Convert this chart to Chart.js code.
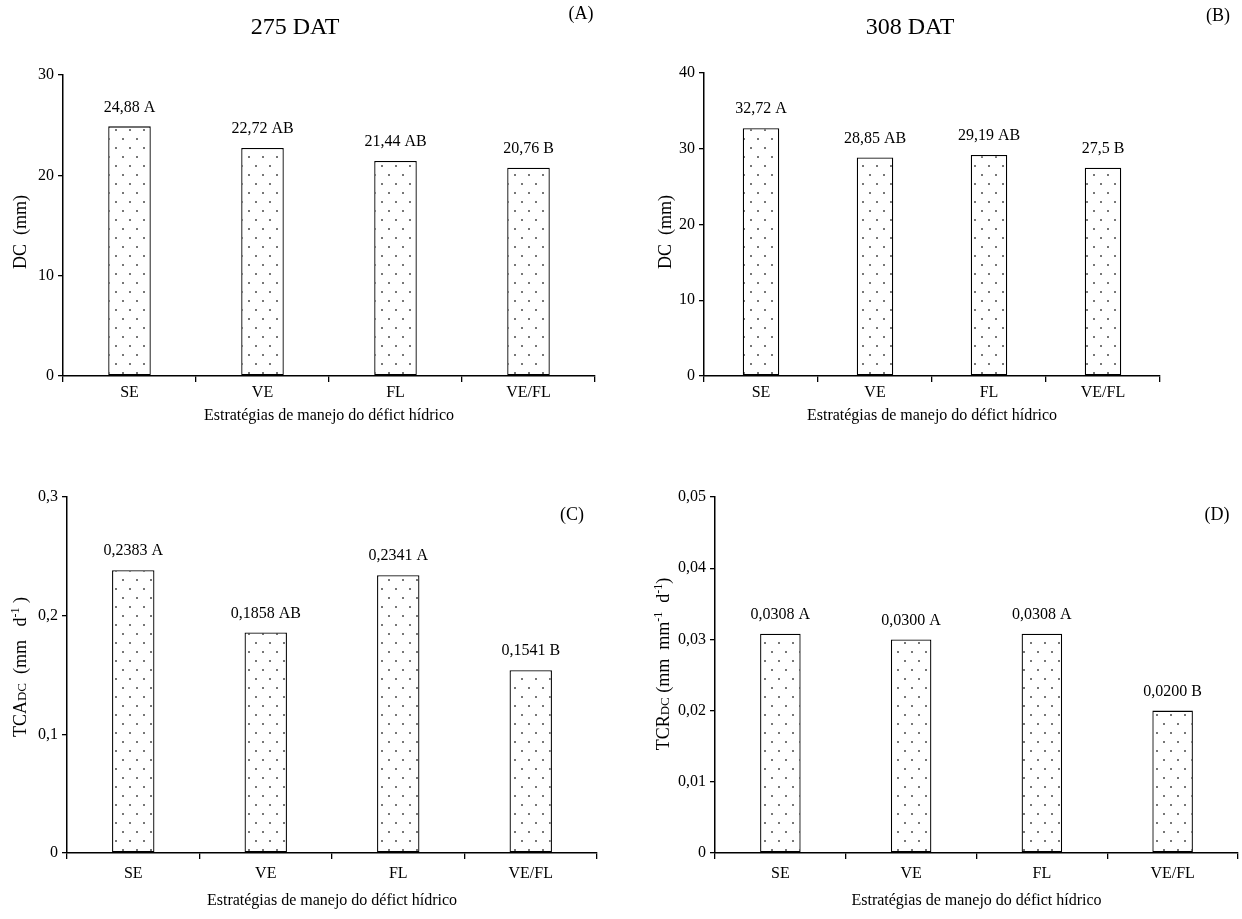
<!DOCTYPE html>
<html>
<head>
<meta charset="utf-8">
<script src="https://cdn.jsdelivr.net/npm/chart.js@4.4.1/dist/chart.umd.min.js"></script>
<style>
  body { margin: 0; background: #fff; width: 1242px; height: 919px; position: relative; overflow: hidden; }
  canvas { position: absolute; }
</style>
</head>
<body>
<canvas id="grafA" width="621" height="459" style="left:0;top:0;width:621px;height:459px"></canvas>
<canvas id="grafB" width="621" height="459" style="left:621px;top:0;width:621px;height:459px"></canvas>
<canvas id="grafC" width="621" height="460" style="left:0;top:459px;width:621px;height:460px"></canvas>
<canvas id="grafD" width="621" height="460" style="left:621px;top:459px;width:621px;height:460px"></canvas>
<script>
const FONTE = '"Liberation Serif", "Times New Roman", serif';
Chart.defaults.font.family = FONTE;
Chart.defaults.color = '#000';

// dados
const categorias = ['SE', 'VE', 'FL', 'VE/FL'];
const tituloX = 'Estratégias de manejo do défict hídrico';

const dcA = [24.88, 22.72, 21.44, 20.76];
const letrasA = ['A', 'AB', 'AB', 'B'];
const ticksA = [0, 10, 20, 30];

const dcB = [32.72, 28.85, 29.19, 27.5];
const letrasB = ['A', 'AB', 'AB', 'B'];
const ticksB = [0, 10, 20, 30, 40];

const tcaC = [0.2383, 0.1858, 0.2341, 0.1541];
const letrasC = ['A', 'AB', 'A', 'B'];
const ticksC = [0, 0.1, 0.2, 0.3];

const tcrD = [0.0308, 0.0300, 0.0308, 0.0200];
const letrasD = ['A', 'A', 'A', 'B'];
const ticksD = [0, 0.01, 0.02, 0.03, 0.04, 0.05];

function formatar(v, dec) {
    if (v === 0) return '0';
    return (dec == null ? String(v) : v.toFixed(dec)).replace('.', ',');
}

// padrao pontilhado das barras
function padraoPontos(ctx) {
    const c = document.createElement('canvas');
    c.width = 14; c.height = 18;
    const g = c.getContext('2d');
    g.fillStyle = '#fff';
    g.fillRect(0, 0, 14, 18);
    g.fillStyle = '#777';
    g.fillRect(3, 3, 2, 2);
    g.fillRect(10, 12, 2, 2);
    return ctx.createPattern(c, 'repeat');
}

const rotulosBarras = {
    id: 'rotulosBarras',
    afterDatasetsDraw(chart, args, opts) {
        const ctx = chart.ctx;
        const meta = chart.getDatasetMeta(0);
        ctx.save();
        ctx.font = '16px ' + FONTE;
        ctx.fillStyle = '#000';
        ctx.textAlign = 'center';
        ctx.textBaseline = 'bottom';
        meta.data.forEach((bar, i) => ctx.fillText(opts.textos[i], bar.x, bar.y - 11));
        ctx.restore();
    }
};

const textosPainel = {
    id: 'textosPainel',
    afterDraw(chart, args, o) {
        const ctx = chart.ctx;
        ctx.save();
        ctx.fillStyle = '#000';
        ctx.textBaseline = 'middle';
        ctx.textAlign = 'center';
        if (o.titulo) {
            ctx.font = '24px ' + FONTE;
            ctx.fillText(o.titulo, o.tx, o.ty);
        }
        ctx.font = '18px ' + FONTE;
        ctx.fillText(o.letra, o.lx, o.ly);

        // titulo do eixo y com subscrito / sobrescrito
        const partes = [];
        let total = 0;
        for (let i = 0; i < o.eixoY.length; i++) {
            const s = o.eixoY[i];
            ctx.font = s.tam + 'px ' + FONTE;
            const w = ctx.measureText(s.t).width;
            partes.push({ t: s.t, tam: s.tam, dy: s.dy || 0, w: w });
            total += w;
        }
        ctx.translate(o.yx, o.yy);
        ctx.rotate(-Math.PI / 2);
        ctx.textAlign = 'left';
        ctx.textBaseline = 'alphabetic';
        let x = -total / 2;
        partes.forEach(p => {
            ctx.font = p.tam + 'px ' + FONTE;
            ctx.fillText(p.t, x, 6 + p.dy);
            x += p.w;
        });
        ctx.restore();
    }
};

function montarGrafico(id, valores, letras, dec, ticksY, decY, cfg) {
    const canvas = document.getElementById(id);
    const ctx = canvas.getContext('2d');
    const H = canvas.height;
    const alturaX = H - cfg.area.bottom;
    const textos = valores.map((v, i) => formatar(v, dec) + ' ' + letras[i]);

    return new Chart(ctx, {
        type: 'bar',
        data: {
            labels: categorias,
            datasets: [{
                data: valores,
                backgroundColor: padraoPontos(ctx),
                borderColor: '#000',
                borderWidth: 1.3,
                borderSkipped: false,
                barPercentage: cfg.barra,
                categoryPercentage: 1
            }]
        },
        options: {
            responsive: false,
            animation: false,
            layout: {
                padding: { left: 0, top: cfg.area.top, right: canvas.width - cfg.area.right, bottom: 0 }
            },
            plugins: {
                legend: { display: false },
                tooltip: { enabled: false },
                rotulosBarras: { textos: textos },
                textosPainel: cfg.textos
            },
            scales: {
                x: {
                    grid: { display: true, drawOnChartArea: false, drawTicks: true, tickLength: 6, color: '#000', lineWidth: 1.3, offset: true },
                    border: { display: true, color: '#000', width: 1.5 },
                    ticks: { font: { size: 16 }, color: '#000', padding: cfg.padTick, maxRotation: 0 },
                    title: {
                        display: true, text: tituloX, color: '#000', font: { size: 16 },
                        padding: { top: 0, bottom: alturaX - cfg.offTitulo - 9.6 }
                    },
                    afterFit(s) { s.height = alturaX; }
                },
                y: {
                    min: 0,
                    max: ticksY[ticksY.length - 1],
                    afterBuildTicks(s) { s.ticks = ticksY.map(v => ({ value: v })); },
                    ticks: { font: { size: 16 }, color: '#000', padding: 4, callback: v => formatar(v, decY) },
                    grid: { display: true, drawOnChartArea: false, drawTicks: true, tickLength: 5, color: '#000', lineWidth: 1.3 },
                    border: { display: true, color: '#000', width: 1.5 },
                    afterFit(s) { s.width = cfg.area.left; }
                }
            }
        },
        plugins: [rotulosBarras, textosPainel]
    });
}

montarGrafico('grafA', dcA, letrasA, null, ticksA, 0, {
    area: { left: 63, right: 595, top: 75, bottom: 376 },
    barra: 0.32, offTitulo: 40, padTick: 1,
    textos: {
        titulo: '275 DAT', tx: 295, ty: 28, letra: '(A)', lx: 581, ly: 14,
        yx: 20, yy: 232,
        eixoY: [{ t: 'DC  (mm)', tam: 18 }]
    }
});

montarGrafico('grafB', dcB, letrasB, null, ticksB, 0, {
    area: { left: 83, right: 539, top: 73, bottom: 376 },
    barra: 0.32, offTitulo: 40, padTick: 1,
    textos: {
        titulo: '308 DAT', tx: 289, ty: 28, letra: '(B)', lx: 597, ly: 16,
        yx: 44, yy: 232,
        eixoY: [{ t: 'DC  (mm)', tam: 18 }]
    }
});

montarGrafico('grafC', tcaC, letrasC, 4, ticksC, 1, {
    area: { left: 67, right: 597, top: 38, bottom: 394 },
    barra: 0.32, offTitulo: 48, padTick: 5,
    textos: {
        titulo: '', letra: '(C)', lx: 572, ly: 56,
        yx: 20, yy: 208,
        eixoY: [
            { t: 'TCA', tam: 18 }, { t: 'DC', tam: 13 },
            { t: '  (mm   d', tam: 18 }, { t: '-1', tam: 12, dy: -7 }, { t: ' )', tam: 18 }
        ]
    }
});

montarGrafico('grafD', tcrD, letrasD, 4, ticksD, 2, {
    area: { left: 94, right: 617, top: 38, bottom: 394 },
    barra: 0.31, offTitulo: 48, padTick: 5,
    textos: {
        titulo: '', letra: '(D)', lx: 596, ly: 56,
        yx: 42, yy: 205,
        eixoY: [
            { t: 'TCR', tam: 18 }, { t: 'DC', tam: 13 },
            { t: ' (mm  mm', tam: 18 }, { t: '-1', tam: 12, dy: -7 },
            { t: '  d', tam: 18 }, { t: '-1', tam: 12, dy: -7 }, { t: ')', tam: 18 }
        ]
    }
});
</script>
</body>
</html>
